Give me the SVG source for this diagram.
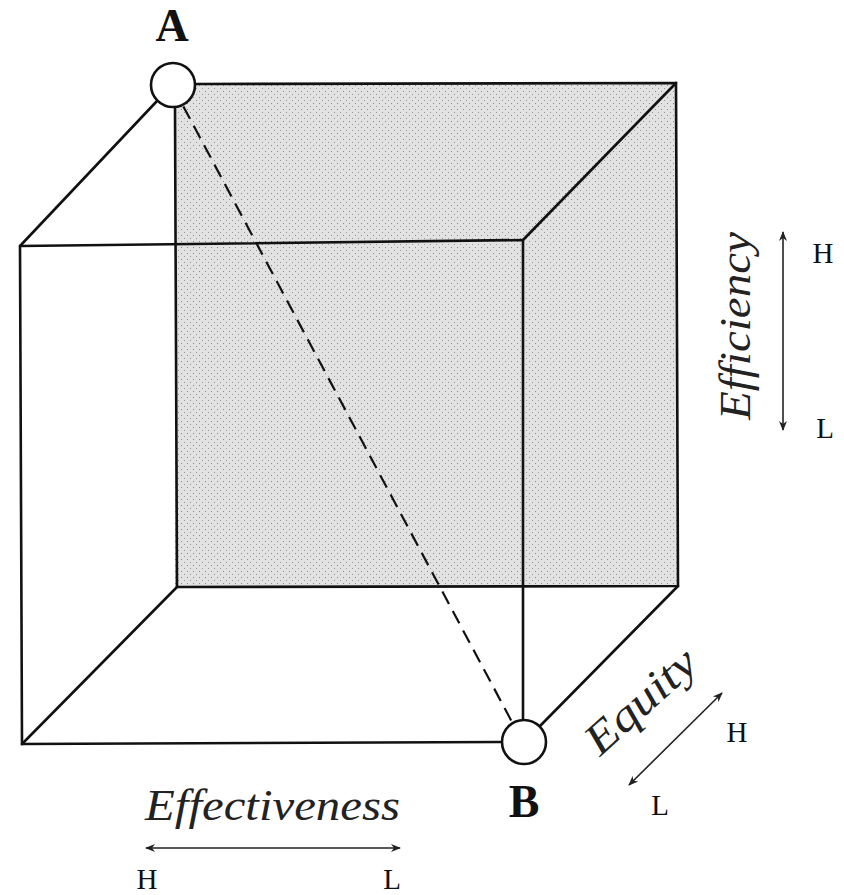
<svg xmlns="http://www.w3.org/2000/svg" width="844" height="895" viewBox="0 0 844 895">
<style>
.edge{fill:none;stroke:#111;stroke-width:2.6;stroke-linecap:round}
.dash{fill:none;stroke:#111;stroke-width:2.2;stroke-dasharray:14 8}
.axis{fill:none;stroke:#222;stroke-width:1.6}
.lbl{font-family:"Liberation Serif",serif;fill:#111}
.script{font-family:"Liberation Serif",serif;font-style:italic;fill:#222}
.pt{fill:#fff;stroke:#111;stroke-width:2.6}
</style>
<defs>
<pattern id="stip" width="6" height="6" patternUnits="userSpaceOnUse">
<rect width="6" height="6" fill="#e2e2e2"/>
<rect x="1" y="1" width="1" height="1" fill="#888"/>
<rect x="4" y="4" width="1" height="1" fill="#999"/>
</pattern>
<marker id="ah" viewBox="0 0 10 10" refX="9" refY="5" markerWidth="10" markerHeight="10" markerUnits="userSpaceOnUse" orient="auto-start-reverse">
<path d="M0,1 L10,5 L0,9 L3,5 Z" fill="#222"/>
</marker>
</defs>
<g id="back-face">
<rect x="175" y="84" width="502" height="503" fill="url(#stip)"/>
<path class="edge" d="M196,84 L676,83 L678,586 L177,587 L175,108"/>
</g>
<g id="front-face">
<path class="edge" d="M20,246 L523,240 L523,719 M501,742 L22,744 L20,246"/>
</g>
<g id="connectors">
<path class="edge" d="M157,101 L20,246"/>
<path class="edge" d="M676,83 L523,240"/>
<path class="edge" d="M177,587 L22,744"/>
<path class="edge" d="M678,586 L540,726"/>
<path class="dash" d="M173,87 L520,737"/>
</g>
<g id="node-A">
<circle class="pt" cx="173" cy="85" r="22"/>
<text class="lbl" x="172" y="41" font-size="46" text-anchor="middle" font-weight="bold">A</text>
</g>
<g id="node-B">
<circle class="pt" cx="524" cy="742" r="22"/>
<text class="lbl" x="524" y="817" font-size="46" text-anchor="middle" font-weight="bold">B</text>
</g>
<g id="axis-effectiveness">
<text class="script" x="145" y="820" font-size="44" textLength="255" lengthAdjust="spacingAndGlyphs">Effectiveness</text>
<path class="axis" d="M146,848 L400,848" marker-start="url(#ah)" marker-end="url(#ah)"/>
<text class="lbl" x="147" y="889" font-size="29" text-anchor="middle">H</text>
<text class="lbl" x="392" y="889" font-size="29" text-anchor="middle">L</text>
</g>
<g id="axis-efficiency">
<text class="script" transform="translate(750,420) rotate(-90)" font-size="44" textLength="188" lengthAdjust="spacingAndGlyphs">Efficiency</text>
<path class="axis" d="M783,430 L783,232" marker-start="url(#ah)" marker-end="url(#ah)"/>
<text class="lbl" x="823" y="263" font-size="29" text-anchor="middle">H</text>
<text class="lbl" x="825" y="438" font-size="29" text-anchor="middle">L</text>
</g>
<g id="axis-equity">
<text class="script" transform="translate(600,757) rotate(-42)" font-size="44" textLength="135" lengthAdjust="spacingAndGlyphs">Equity</text>
<path class="axis" d="M629,785 L722,693" marker-start="url(#ah)" marker-end="url(#ah)"/>
<text class="lbl" x="737" y="742" font-size="29" text-anchor="middle">H</text>
<text class="lbl" x="660" y="815" font-size="29" text-anchor="middle">L</text>
</g>
</svg>
